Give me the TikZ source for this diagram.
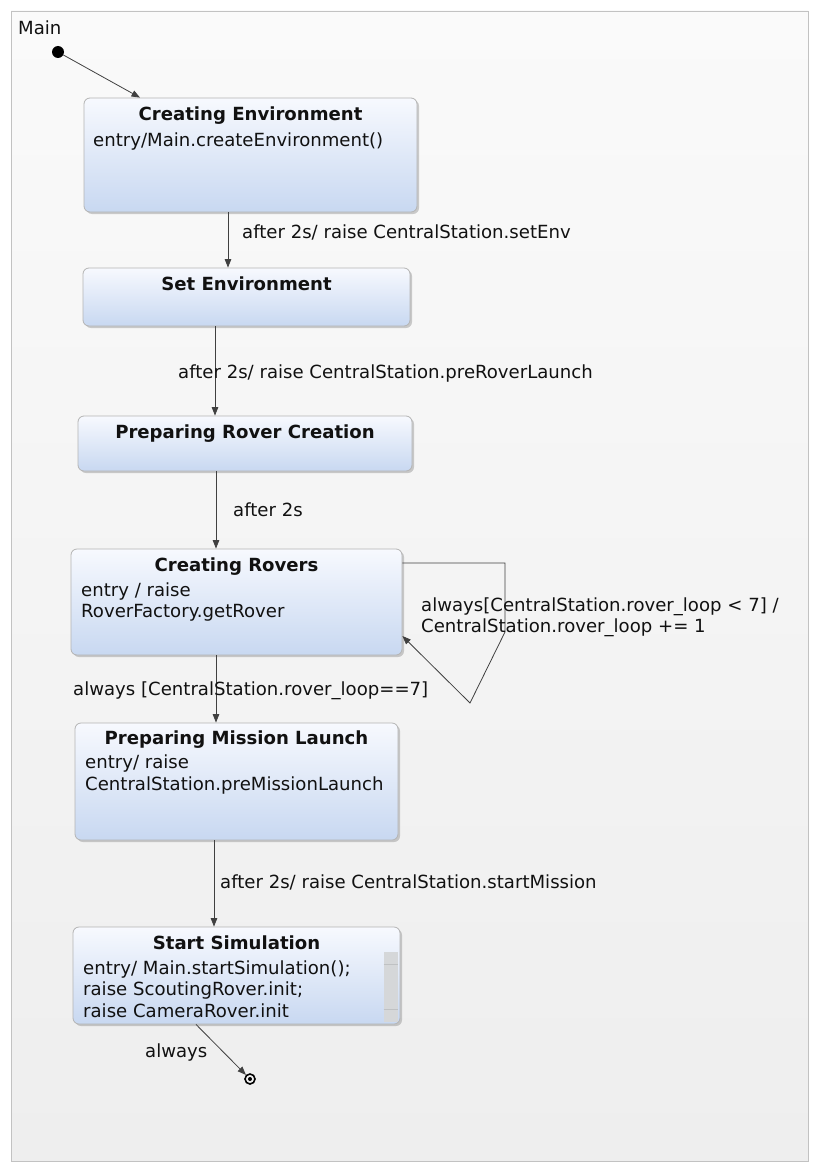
\documentclass[tikz,border=0pt]{standalone}
\usepackage{fontspec}
\setmainfont{DejaVu Sans}
\usetikzlibrary{arrows.meta,shadows}
\definecolor{frameline}{HTML}{C2C2C2}
\definecolor{frametop}{HTML}{FAFAFA}
\definecolor{framebot}{HTML}{EEEEEE}
\definecolor{boxline}{HTML}{B4B4B4}
\definecolor{boxtop}{HTML}{F7F9FE}
\definecolor{boxbot}{HTML}{C8D8F1}
\definecolor{arrowc}{HTML}{404040}
\definecolor{txt}{HTML}{111111}
\definecolor{scrollc}{HTML}{D5D7D9}
\definecolor{scrollln}{HTML}{BFC1C3}
\newcommand{\dgfont}{\fontsize{18.1}{21.5}\selectfont}
\begin{document}
\begin{tikzpicture}[x=1pt,y=-1pt,
  lbl/.style={anchor=base west, inner sep=0pt, font=\dgfont, text=txt},
  ttl/.style={anchor=base, inner sep=0pt, font=\dgfont\bfseries, text=txt},
  statebox/.style={draw=boxline, line width=0.8pt, rounded corners=6pt,
    top color=boxtop, bottom color=boxbot, inner sep=0pt,
    drop shadow={shadow xshift=2pt, shadow yshift=-2pt, opacity=0.35, fill=black!55}},
  trans/.style={draw=arrowc, line width=0.8pt, -{Triangle[length=8.5pt,width=6.5pt]}}
]
% page and diagram frame
\fill[white] (0,0) rectangle (819,1172);
\draw[frameline, line width=0.8pt, top color=frametop, bottom color=framebot] (11,11) rectangle (808,1161);
\node[lbl] (mainlbl) at (18,35) {Main};

% states
\node[statebox, minimum width=333pt, minimum height=114pt] (ce) at (250.5,155) {};
\node[statebox, minimum width=327pt, minimum height=58pt] (se) at (246.5,297) {};
\node[statebox, minimum width=334pt, minimum height=55pt] (pr) at (245,443.5) {};
\node[statebox, minimum width=331pt, minimum height=106pt] (cr) at (236.5,602) {};
\node[statebox, minimum width=323pt, minimum height=117pt] (pm) at (236.5,781.5) {};
\node[statebox, minimum width=327pt, minimum height=97pt] (ss) at (236.5,975.5) {};

% state texts
\node[ttl] (ceT) at (250.5,120) {Creating Environment};
\node[lbl] (ceA) at (93,146) {entry/Main.createEnvironment()};
\node[ttl] (seT) at (246.5,290) {Set Environment};
\node[ttl] (prT) at (245,438) {Preparing Rover Creation};
\node[ttl] (crT) at (236.5,571) {Creating Rovers};
\node[lbl] (crA) at (81,596.5) {entry / raise};
\node[lbl] (crB) at (81,617.5) {RoverFactory.getRover};
\node[ttl] (pmT) at (236.5,744) {Preparing Mission Launch};
\node[lbl] (pmA) at (85,768.5) {entry/ raise};
\node[lbl] (pmB) at (85,790) {CentralStation.preMissionLaunch};
\node[ttl] (ssT) at (236.5,949) {Start Simulation};
\node[lbl] (ssA) at (83,974) {entry/ Main.startSimulation();};
\node[lbl] (ssB) at (83,995.5) {raise ScoutingRover.init;};
\node[lbl] (ssC) at (83,1017) {raise CameraRover.init};

% scroll bar of the last state
\fill[scrollc] (383.5,952) rectangle (398,1022);
\draw[scrollln, line width=0.8pt] (383.5,964) -- (398,964) (383.5,1009) -- (398,1009);

% pseudo states
\node[circle, fill=black, minimum size=12pt, inner sep=0pt] (init) at (58,52) {};
\node[circle, draw=black, line width=1.6pt, minimum size=10pt, inner sep=0pt] (fin) at (250,1079) {};
\fill[black] (fin.center) circle (2pt);

% transitions
\draw[trans] (init) -- ([xshift=-110.5pt]ce.north);
\draw[trans] ([xshift=-22.5pt]ce.south) -- ([xshift=-18.5pt]se.north);
\draw[trans] ([xshift=-31.5pt]se.south) -- ([xshift=-30pt]pr.north);
\draw[trans] ([xshift=-29pt]pr.south) -- ([xshift=-20.5pt]cr.north);
\draw[trans] ([xshift=-20.5pt]cr.south) -- ([xshift=-20.5pt]pm.north);
\draw[trans] ([xshift=-22.5pt]pm.south) -- ([xshift=-22.5pt]ss.north);
\draw[trans] ([xshift=-40.5pt]ss.south) -- (fin);
\coordinate (lp1) at (505,632);
\coordinate (lp2) at (470,703);
\draw[trans] ([yshift=39pt]cr.east) -| (lp1) -- (lp2) -- ([yshift=-34pt]cr.east);

% transition labels
\node[lbl] (t1) at (242,238) {after 2s/ raise CentralStation.setEnv};
\node[lbl] (t2) at (178,378) {after 2s/ raise CentralStation.preRoverLaunch};
\node[lbl] (t3) at (233,516) {after 2s};
\node[lbl] (t4a) at (421,611.5) {always[CentralStation.rover\_loop < 7] /};
\node[lbl] (t4b) at (421,632.5) {CentralStation.rover\_loop += 1};
\node[lbl] (t5) at (73,695) {always [CentralStation.rover\_loop==7]};
\node[lbl] (t6) at (220,888) {after 2s/ raise CentralStation.startMission};
\node[lbl] (t7) at (145,1057) {always};
\end{tikzpicture}
\end{document}
